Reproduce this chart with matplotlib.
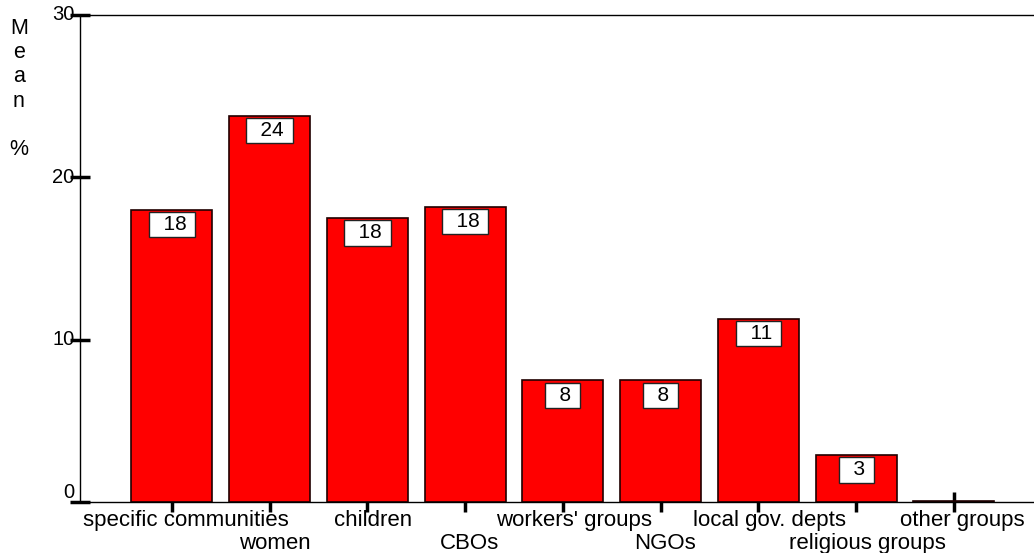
import matplotlib
matplotlib.use("Agg")
import matplotlib.pyplot as plt

categories = ["specific communities", "women", "children", "CBOs",
              "workers' groups", "NGOs", "local gov. depts",
              "religious groups", "other groups"]
means = [18.0, 23.8, 17.5, 18.2, 7.5, 7.5, 11.3, 2.9, 0.05]
y_ticks = [0, 10, 20, 30]

plt.rcParams['font.family'] = ['Liberation Sans', 'DejaVu Sans']

fig = plt.figure(figsize=(10.34, 5.53), dpi=100)
ax = fig.add_axes([80 / 1034, 51 / 553, 954 / 1034, 487 / 553])

x = list(range(len(categories)))
ax.bar(x, means, width=0.83, color='#ff0000', edgecolor='#200000',
       linewidth=1.2, zorder=2)

# value boxes just under the top of each bar
for xi, v in zip(x, means):
    if v >= 0.5:
        ax.annotate(f"  {v:.0f} ", (xi, v), xytext=(0, -4.0), textcoords='offset points',
                    ha='center', va='top', fontsize=15, zorder=4,
                    bbox=dict(boxstyle='square,pad=0.15', fc='white', ec='#222222', lw=1.0))

ax.set_xlim(-0.94, 8.82)
ax.set_ylim(0, 30)
ax.set_yticks(y_ticks)
ax.set_yticklabels([str(t) for t in y_ticks], fontsize=14.5)
for lab, t in zip(ax.get_yticklabels(), y_ticks):
    lab.set_va('bottom' if t == 0 else 'center')

# category names on two staggered rows under the ticks
ax.set_xticks(x)
ax.set_xticklabels([])
cat_texts = []
for i, c in enumerate(categories):
    row_y = -24 if i % 2 == 0 else -47
    t = ax.annotate(c, (i, 0), xycoords=('data', 'axes fraction'),
                    xytext=(0, row_y), textcoords='offset pixels',
                    ha='center', va='baseline', fontsize=16, annotation_clip=False)
    cat_texts.append(t)
renderer = fig.canvas.get_renderer()
for t in cat_texts:
    w = t.get_window_extent(renderer).width
    t.xyann = (0.07 * w, t.xyann[1])

ax.tick_params(axis='y', direction='inout', length=14, width=2.5, pad=-3)
ax.tick_params(axis='x', direction='inout', length=14, width=2.5)
for t in ax.get_xticklines():
    t.set_zorder(5)

ax.spines['right'].set_visible(False)
for s in ('left', 'top', 'bottom'):
    ax.spines[s].set_linewidth(1.0)
    ax.spines[s].set_color('black')
ax.spines['bottom'].set_zorder(3)

fig.text(19 / 1034, 1 - 18 / 553, "M\ne\na\nn\n\n%", ha='center', va='top',
         fontsize=15.5, linespacing=1.2)

fig.savefig("out.png", dpi=100)
